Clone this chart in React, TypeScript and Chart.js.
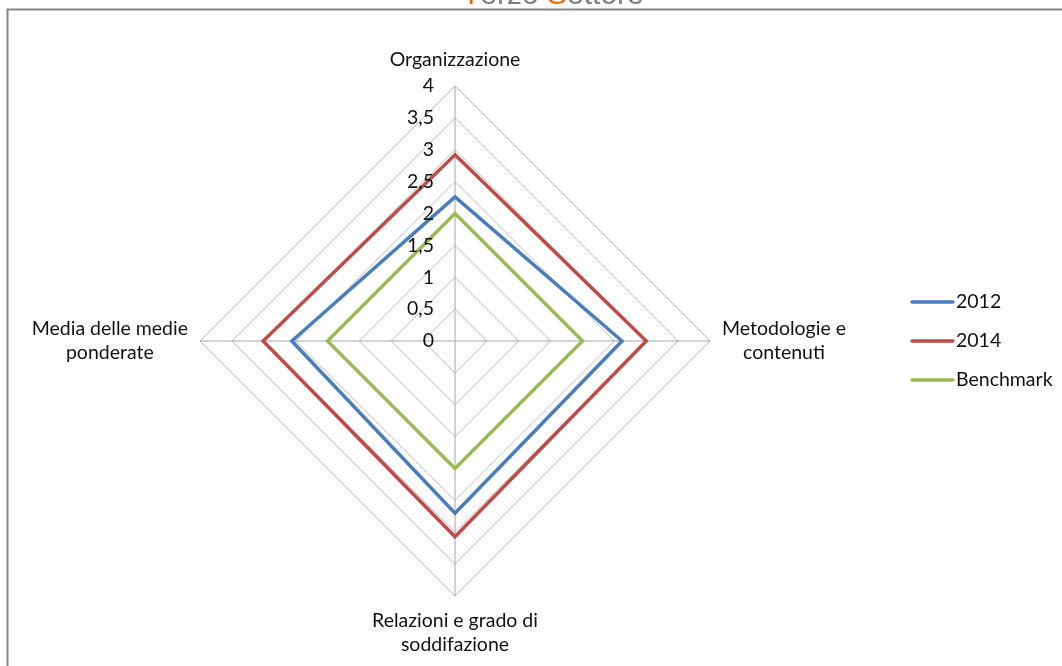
import React, { useEffect, useRef } from "react";
import { Chart, registerables } from "chart.js";

Chart.register(...registerables);

const categories: string[][] = [
  ["Organizzazione"],
  ["Metodologie e", "contenuti"],
  ["Relazioni e grado di", "soddifazione"],
  ["Media delle medie", "ponderate"],
];
const series2012 = [2.26, 2.62, 2.7, 2.56];
const series2014 = [2.92, 3.0, 3.07, 3.01];
const seriesBenchmark = [2.0, 2.0, 2.0, 2.0];
const seriesNames = ["2012", "2014", "Benchmark"];
const seriesColors = ["#4A7EBB", "#BE4B48", "#98B954"];
const tickMin = 0;
const tickMax = 4;
const tickStep = 0.5;

const FONT = "Lato, 'Open Sans', sans-serif";
const TEXT = "#111111";

const decorPlugin = {
  id: "decor",
  afterDraw(chart: any) {
    const ctx = chart.ctx as CanvasRenderingContext2D;
    const scale = chart.scales.r;
    ctx.save();

    // frame
    ctx.strokeStyle = "#858585";
    ctx.lineWidth = 2;
    ctx.beginPath();
    ctx.moveTo(7.5, 700);
    ctx.lineTo(7.5, 9.5);
    ctx.lineTo(1100, 9.5);
    ctx.stroke();

    // cut-off title
    ctx.font = `30px 'Liberation Sans', Arial, sans-serif`;
    ctx.textBaseline = "alphabetic";
    ctx.textAlign = "left";
    const parts: [string, string][] = [
      ["T", "#E46C0A"],
      ["erzo ", "#7F7F7F"],
      ["S", "#E46C0A"],
      ["ettore", "#7F7F7F"],
    ];
    let tx = 462;
    for (const [s, c] of parts) {
      ctx.fillStyle = c;
      ctx.fillText(s, tx, 4);
      tx += ctx.measureText(s).width;
    }

    // tick labels
    ctx.font = `19.5px ${FONT}`;
    ctx.fillStyle = TEXT;
    ctx.textAlign = "right";
    ctx.textBaseline = "middle";
    for (const t of scale.ticks) {
      const d = scale.getDistanceFromCenterForValue(t.value);
      ctx.fillText(String(t.value).replace(".", ","), scale.xCenter - 21, scale.yCenter - d);
    }

    // point labels
    const lineH = 24;
    const labels = chart.data.labels as string[][];
    labels.forEach((lines, i) => {
      const p = scale.getPointPosition(i, scale.drawingArea + 12);
      const widths = lines.map((l) => ctx.measureText(l).width);
      const maxW = Math.max(...widths);
      ctx.textAlign = "center";
      ctx.textBaseline = "middle";
      const dx = p.x - scale.xCenter;
      const dy = p.y - scale.yCenter;
      lines.forEach((l, k) => {
        let cx = p.x;
        let cy = p.y;
        if (Math.abs(dx) < 1 && dy < 0) {
          cy = p.y - lineH / 2 - 2 - (lines.length - 1 - k) * lineH;
        } else if (Math.abs(dx) < 1 && dy > 0) {
          cy = p.y + lineH / 2 + 1 + k * lineH;
        } else {
          cx = dx > 0 ? p.x + maxW / 2 : p.x - maxW / 2;
          cy = p.y - ((lines.length - 1) * lineH) / 2 + k * lineH;
        }
        ctx.fillText(l, cx, cy);
      });
    });

    // legend
    chart.data.datasets.forEach((ds: any, i: number) => {
      const y = 302 + 39 * i;
      ctx.strokeStyle = ds.borderColor;
      ctx.lineWidth = 3.5;
      ctx.lineCap = "round";
      ctx.beginPath();
      ctx.moveTo(912, y);
      ctx.lineTo(953, y);
      ctx.stroke();
      ctx.fillStyle = TEXT;
      ctx.textAlign = "left";
      ctx.textBaseline = "middle";
      ctx.fillText(ds.label, 956, y);
    });

    ctx.restore();
  },
};

export default function App() {
  const ref = useRef<HTMLCanvasElement | null>(null);
  useEffect(() => {
    if (!ref.current) return;
    const data = [series2012, series2014, seriesBenchmark];
    const chart = new Chart(ref.current, {
      type: "radar",
      data: {
        labels: categories,
        datasets: seriesNames.map((name, i) => ({
          label: name,
          data: data[i],
          borderColor: seriesColors[i],
          backgroundColor: seriesColors[i],
          borderWidth: 3.5,
          fill: false,
          pointRadius: 0,
          pointHoverRadius: 0,
          tension: 0,
        })),
      },
      options: {
        responsive: false,
        animation: false,
        plugins: {
          legend: { display: false },
          tooltip: { enabled: false },
        },
        scales: {
          r: {
            min: tickMin,
            max: tickMax,
            ticks: { stepSize: tickStep, display: false },
            grid: { color: "#BBBBBB", lineWidth: 1 },
            angleLines: { color: "#A6A6A6", lineWidth: 1 },
            pointLabels: { display: false },
            afterFit: (scale: any) => {
              scale.xCenter = 455;
              scale.yCenter = 341;
              scale.drawingArea = 255;
            },
          },
        },
      },
      plugins: [decorPlugin],
    });
    return () => chart.destroy();
  }, []);
  return (
    <div style={{ position: "absolute", left: 0, top: 0, width: 1062, height: 666, background: "#fff" }}>
      <canvas ref={ref} width={1062} height={666} style={{ display: "block" }} />
    </div>
  );
}
